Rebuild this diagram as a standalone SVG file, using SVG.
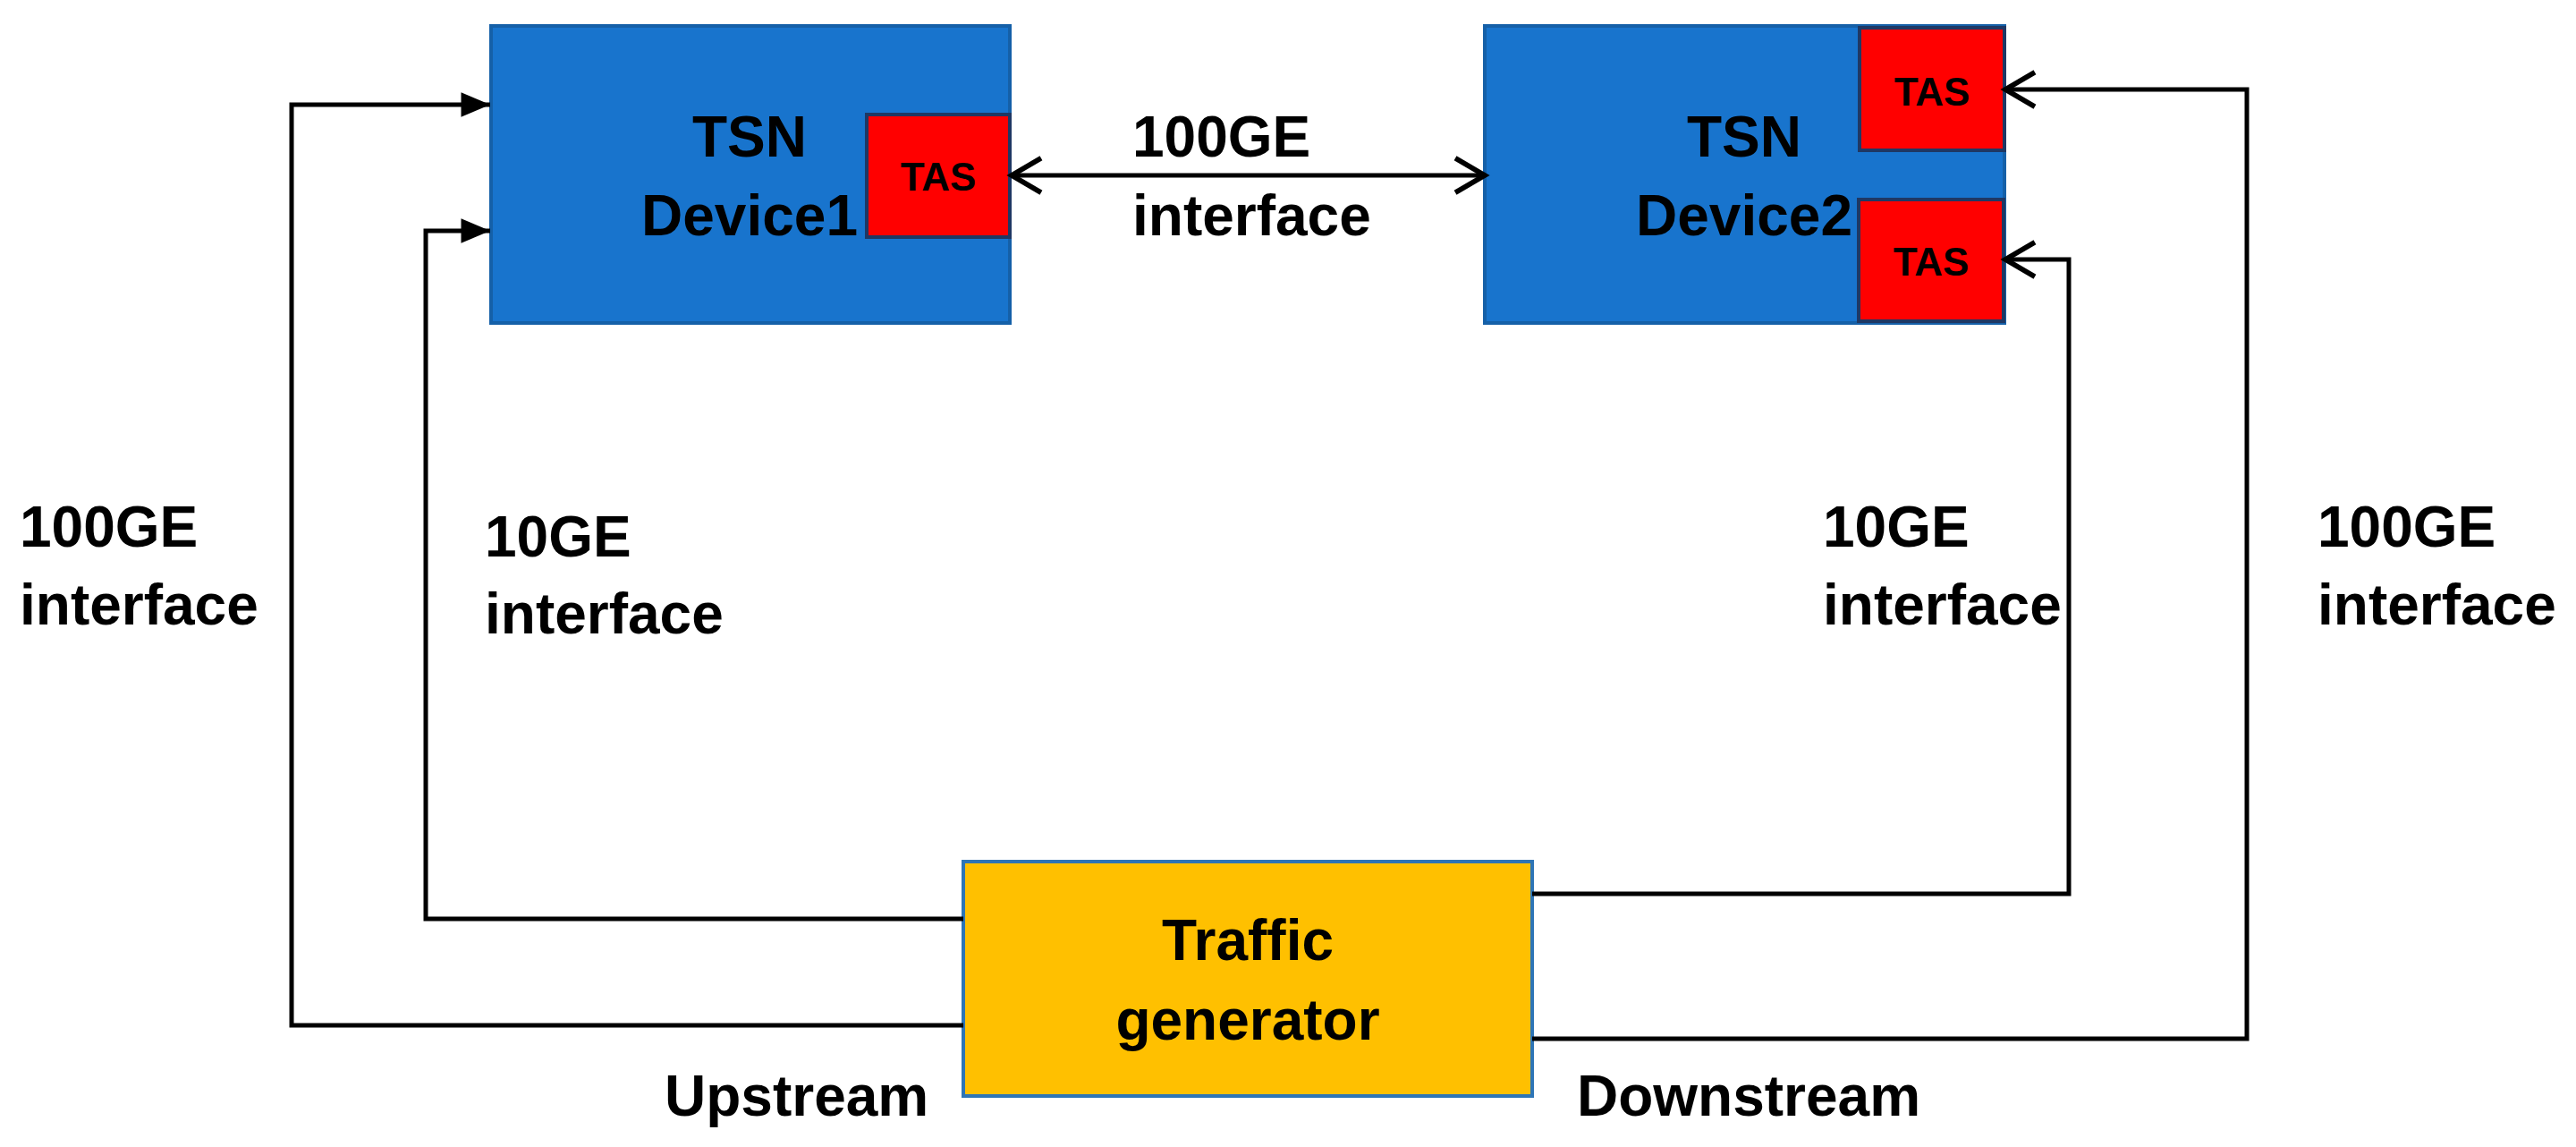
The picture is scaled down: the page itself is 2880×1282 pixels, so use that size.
<svg xmlns="http://www.w3.org/2000/svg" width="2880" height="1282" viewBox="0 0 2880 1282">
<defs>
<style>
.t{font-family:"Liberation Sans",Arial,sans-serif;font-weight:bold;font-size:64px;fill:#000}
.tas{font-family:"Liberation Sans",Arial,sans-serif;font-weight:bold;font-size:44px;fill:#000;text-anchor:middle}
.dev{fill:#1874cd;stroke:#1560a8;stroke-width:4}
.tasbox{fill:#ff0000;stroke:#1f3864;stroke-width:4}
.gen{fill:#ffc000;stroke:#2e75b6;stroke-width:4}
.c{fill:none;stroke:#000;stroke-width:5}
</style>
<marker id="solid" markerUnits="userSpaceOnUse" markerWidth="40" markerHeight="40" viewBox="-30 -15 32 30" refX="0" refY="0" orient="auto">
<path d="M-26,-11 L0,0 L-26,11 Z" fill="#000"/>
</marker>
<marker id="open" markerUnits="userSpaceOnUse" markerWidth="50" markerHeight="50" viewBox="-34 -22 38 44" refX="0" refY="0" orient="auto-start-reverse">
<path d="M-29,-17 L0,0 L-29,17" fill="none" stroke="#000" stroke-width="5"/>
</marker>
</defs>
<rect width="2880" height="1282" fill="#fff"/>

<g id="device1">
<rect class="dev" x="549" y="29" width="580" height="332"/>
<text class="t" x="838" y="175" text-anchor="middle">TSN</text>
<text class="t" x="838" y="263" text-anchor="middle">Device1</text>
</g>
<g id="tas1">
<rect class="tasbox" x="969" y="128" width="160" height="137"/>
<text class="tas" x="1049" y="213">TAS</text>
</g>

<g id="device2">
<rect class="dev" x="1660" y="29" width="581" height="332"/>
<text class="t" x="1950" y="175" text-anchor="middle">TSN</text>
<text class="t" x="1950" y="263" text-anchor="middle">Device2</text>
</g>
<g id="tas2a">
<rect class="tasbox" x="2079" y="31" width="162" height="137"/>
<text class="tas" x="2160" y="118">TAS</text>
</g>
<g id="tas2b">
<rect class="tasbox" x="2078" y="223" width="162" height="136"/>
<text class="tas" x="2159" y="308">TAS</text>
</g>

<g id="traffic-generator">
<rect class="gen" x="1077" y="963" width="636" height="262"/>
<text class="t" x="1395" y="1073" text-anchor="middle">Traffic</text>
<text class="t" x="1395" y="1162" text-anchor="middle">generator</text>
</g>

<g id="connectors">
<path class="c" d="M1077,1146 H326 V117 H548" marker-end="url(#solid)"/>
<path class="c" d="M1077,1027 H476 V258 H548" marker-end="url(#solid)"/>
<path class="c" d="M1713,999 H2313 V290 H2242" marker-end="url(#open)"/>
<path class="c" d="M1713,1161 H2512 V100 H2242" marker-end="url(#open)"/>
<path class="c" d="M1131,196 H1660" marker-start="url(#open)" marker-end="url(#open)"/>
</g>

<g id="labels">
<text class="t" x="1266" y="175">100GE</text>
<text class="t" x="1266" y="263">interface</text>
<text class="t" x="22" y="611">100GE</text>
<text class="t" x="22" y="698">interface</text>
<text class="t" x="542" y="622">10GE</text>
<text class="t" x="542" y="708">interface</text>
<text class="t" x="2038" y="611">10GE</text>
<text class="t" x="2038" y="698">interface</text>
<text class="t" x="2591" y="611">100GE</text>
<text class="t" x="2591" y="698">interface</text>
<text class="t" x="743" y="1247">Upstream</text>
<text class="t" x="1763" y="1247">Downstream</text>
</g>
</svg>
